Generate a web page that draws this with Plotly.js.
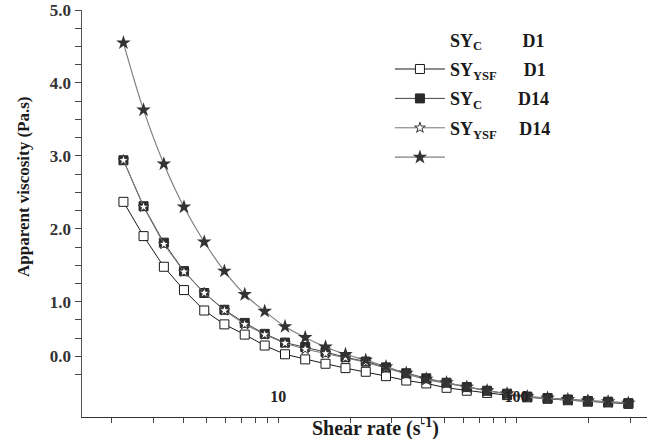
<!DOCTYPE html>
<html>
<head>
<meta charset="utf-8">
<script src="https://cdn.plot.ly/plotly-3.0.1.min.js"></script>
<style>html,body{margin:0;padding:0;background:#fff;}#chart{width:652px;height:439px;}</style>
</head>
<body>
<div id="chart"></div>
<script>
// Shear rate (s^-1), log-spaced measurement points
const shearRate = [2.24, 2.72, 3.31, 4.02, 4.89, 5.94, 7.23, 8.77, 10.67, 12.97, 15.78, 19.14, 23.28,
  28.31, 34.43, 41.78, 50.82, 61.8, 75.2, 91.2, 110.9, 134.9, 164.1, 199.1, 242.1, 294.4];

// Apparent viscosity (Pa.s)
const openSquare = [2.37, 1.90, 1.48, 1.16, 0.88, 0.69, 0.55, 0.40, 0.28, 0.21, 0.15, 0.09, 0.04,
  -0.02, -0.08, -0.12, -0.18, -0.22, -0.25, -0.28, -0.31, -0.33, -0.35, -0.37, -0.38, -0.40];
const filledSquare = [2.94, 2.31, 1.81, 1.42, 1.12, 0.89, 0.71, 0.56, 0.44, 0.38, 0.31, 0.24, 0.18,
  0.10, 0.02, -0.05, -0.11, -0.17, -0.22, -0.26, -0.30, -0.32, -0.34, -0.36, -0.37, -0.39];
const openStar = [2.94, 2.30, 1.79, 1.41, 1.12, 0.88, 0.69, 0.55, 0.43, 0.35, 0.29, 0.23, 0.17,
  0.09, 0.01, -0.07, -0.12, -0.17, -0.22, -0.27, -0.31, -0.33, -0.35, -0.36, -0.38, -0.39];
const filledStar = [4.55, 3.63, 2.89, 2.30, 1.82, 1.42, 1.10, 0.87, 0.66, 0.51, 0.38, 0.28, 0.20,
  0.11, 0.02, -0.06, -0.11, -0.17, -0.22, -0.26, -0.30, -0.32, -0.34, -0.36, -0.37, -0.39];

// Legend labels as printed in the figure
const legendNames = [
  "SY<sub>C</sub>\u00a0\u00a0\u00a0\u00a0\u00a0\u00a0\u00a0\u00a0\u00a0D1",
  "SY<sub>YSF</sub>\u00a0\u00a0\u00a0\u00a0\u00a0\u00a0D1",
  "SY<sub>C</sub>\u00a0\u00a0\u00a0\u00a0\u00a0\u00a0\u00a0\u00a0D14",
  "SY<sub>YSF</sub>\u00a0\u00a0\u00a0\u00a0\u00a0D14",
  " "
];

// Axis ticks (labelled majors + unlabelled minors)
const yTickVals = [0.25, 1, 2, 3, 4, 5];
const yTickText = ["0.0", "1.0", "2.0", "3.0", "4.0", "5.0"];
const yMinorVals = [-0.5, -0.25, 0, 0.5, 0.75, 1.25, 1.5, 1.75, 2.25, 2.5, 2.75, 3.25, 3.5, 3.75, 4.25, 4.5, 4.75];
const xTickVals = [10, 100];
const xTickText = ["10", "100"];
const xMinorVals = [2, 3, 4, 5, 6, 7, 8, 9, 20, 30, 40, 50, 60, 70, 80, 90, 200, 300];

const serif = "Liberation Serif, Times New Roman, serif";

const traces = [
  {x: [null], y: [null], name: legendNames[0], mode: "markers", legendgroup: "g0",
   marker: {color: "rgba(0,0,0,0)", size: 1}, hoverinfo: "skip"},
  {x: shearRate, y: openSquare, name: legendNames[1], mode: "lines+markers", legendgroup: "g1",
   line: {color: "#1a1a1a", width: 1},
   marker: {symbol: "square", size: 9, color: "#ffffff", line: {color: "#1a1a1a", width: 1}}},
  {x: shearRate, y: filledSquare, name: legendNames[2], mode: "lines+markers", legendgroup: "g2",
   line: {color: "#444444", width: 1},
   marker: {symbol: "square", size: 9, color: "#2a2a2a", line: {color: "#2a2a2a", width: 1}}},
  {x: shearRate, y: openStar, name: legendNames[3], mode: "lines+markers", legendgroup: "g3",
   line: {color: "#777777", width: 1},
   marker: {symbol: "star", size: 8, color: "#ffffff", line: {color: "#333333", width: 1}}},
  {x: shearRate, y: filledStar, name: legendNames[4], mode: "lines+markers", legendgroup: "g4",
   line: {color: "#808080", width: 1.2, shape: "spline"},
   marker: {symbol: "star", size: 11, color: "#333333", line: {color: "#333333", width: 0}}}
];

const layout = {
  width: 652, height: 439,
  margin: {l: 82, r: 5, t: 10, b: 22, pad: 0},
  paper_bgcolor: "#ffffff", plot_bgcolor: "#ffffff",
  font: {family: serif, size: 14, color: "#222", weight: "bold"},
  showlegend: true,
  legend: {x: 0.545, y: 0.972, xanchor: "left", yanchor: "top", bgcolor: "rgba(0,0,0,0)",
    font: {family: serif, size: 18, color: "#1a1a1a", weight: "bold"},
    itemwidth: 50, tracegroupgap: 3, traceorder: "grouped"},
  xaxis: {type: "log", range: [0.1763, 2.5472], showgrid: false, zeroline: false,
    showline: true, linecolor: "#333", linewidth: 1,
    ticks: "outside", ticklen: 5, tickcolor: "#444", tickwidth: 1,
    tickmode: "array", tickvals: xTickVals, ticktext: xTickText,
    ticklabelposition: "inside", ticklabelstandoff: 12,
    tickfont: {family: serif, size: 16, color: "#222", weight: "bold"},
    minor: {tickmode: "array", tickvals: xMinorVals, ticks: "outside", ticklen: 5,
      tickcolor: "#444", tickwidth: 1, showgrid: false}},
  yaxis: {range: [-0.58, 5.0], showgrid: false, zeroline: false,
    showline: true, linecolor: "#555", linewidth: 1.5,
    ticks: "outside", ticklen: 6, tickcolor: "#444", tickwidth: 1,
    tickmode: "array", tickvals: yTickVals, ticktext: yTickText,
    tickfont: {family: serif, size: 17, color: "#333", weight: "bold"},
    minor: {tickmode: "array", tickvals: yMinorVals, ticks: "outside", ticklen: 6,
      tickcolor: "#444", tickwidth: 1, showgrid: false}},
  annotations: [
    {text: "Apparent viscosity (Pa.s)", xref: "paper", yref: "paper",
     x: (23 - 82) / 565, y: (416.5 - 187) / 406.2, xanchor: "center", yanchor: "middle",
     textangle: -90, showarrow: false,
     font: {family: serif, size: 17, color: "#1a1a1a", weight: "bold"}},
    {text: "Shear rate (s<sup>-1</sup>)", xref: "paper", yref: "paper",
     x: (375 - 82) / 565, y: -(427 - 416.5) / 406.2, xanchor: "center", yanchor: "middle",
     showarrow: false,
     font: {family: serif, size: 20, color: "#1a1a1a", weight: "bold"}}
  ]
};

Plotly.newPlot("chart", traces, layout, {displayModeBar: false, staticPlot: true});
</script>
</body>
</html>
